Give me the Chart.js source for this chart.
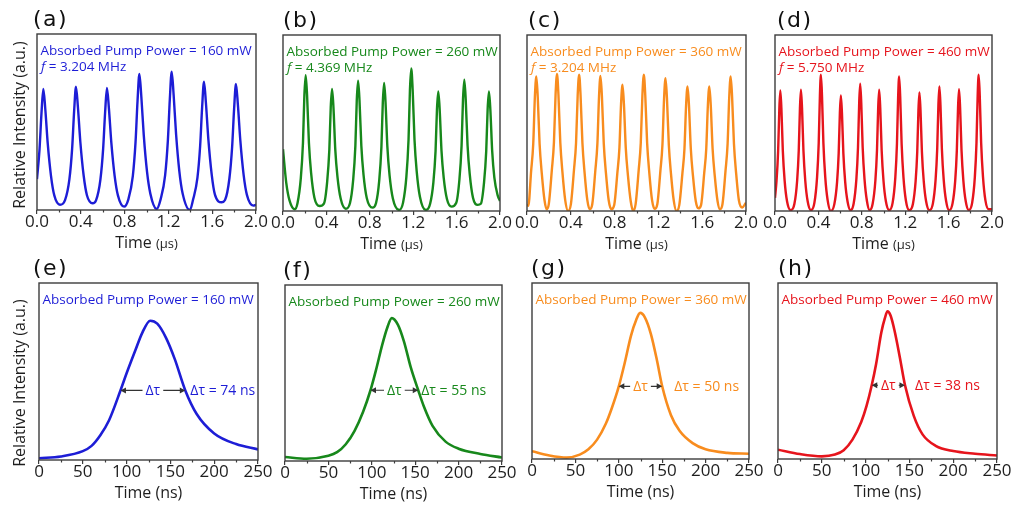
<!DOCTYPE html>
<html>
<head>
<meta charset="utf-8">
<script src="https://cdn.jsdelivr.net/npm/chart.js@4"></script>
<style>
  html, body { margin: 0; padding: 0; background: #fff; }
  #fig { position: relative; width: 1011px; height: 506px; overflow: hidden; background: #fff; }
  #fig canvas { position: absolute; }
</style>
</head>
<body>
<div id="fig"></div>
<script>
// ---- Pulse trains, time in microseconds, intensity in arbitrary units ----
const trainA = [
  [0,0.176],[0.023,0.344],[0.041,0.55],[0.058,0.688],[0.076,0.571],[0.098,0.378],[0.128,0.193],[0.158,0.083],[0.21,0.03],
  [0.256,0.056],[0.296,0.175],[0.321,0.35],[0.339,0.56],[0.356,0.70],[0.374,0.581],[0.396,0.385],[0.426,0.196],[0.456,0.084],[0.508,0.038],
  [0.539,0.055],[0.579,0.173],[0.604,0.347],[0.622,0.554],[0.639,0.693],[0.657,0.575],[0.679,0.381],[0.709,0.194],[0.739,0.083],[0.795,0.019],
  [0.835,0.062],[0.875,0.193],[0.90,0.387],[0.918,0.618],[0.935,0.773],[0.953,0.642],[0.975,0.425],[1.005,0.216],[1.035,0.093],[1.093,0.006],
  [1.13,0.063],[1.17,0.197],[1.195,0.393],[1.213,0.629],[1.23,0.786],[1.248,0.652],[1.27,0.432],[1.30,0.22],[1.33,0.094],[1.397,0.0],
  [1.425,0.058],[1.465,0.182],[1.49,0.365],[1.508,0.583],[1.525,0.729],[1.543,0.605],[1.565,0.401],[1.595,0.204],[1.625,0.087],[1.686,0.044],
  [1.717,0.057],[1.757,0.179],[1.782,0.358],[1.80,0.573],[1.817,0.716],[1.835,0.594],[1.857,0.394],[1.887,0.2],[1.917,0.086],[1.976,0.025],[2.0,0.03]
];
const trainB = [
  [0,0.351],[0.03,0.16],[0.06,0.06],[0.108,0.01],
  [0.134,0.046],[0.164,0.185],[0.184,0.386],[0.197,0.656],[0.209,0.772],[0.222,0.656],[0.239,0.386],[0.259,0.216],[0.289,0.077],[0.338,0.028],
  [0.377,0.042],[0.407,0.166],[0.427,0.347],[0.44,0.589],[0.452,0.693],[0.465,0.589],[0.482,0.347],[0.502,0.194],[0.532,0.069],[0.578,0.013],
  [0.617,0.044],[0.647,0.178],[0.667,0.37],[0.68,0.629],[0.692,0.74],[0.705,0.629],[0.722,0.37],[0.742,0.207],[0.772,0.074],[0.825,0.019],
  [0.857,0.044],[0.887,0.174],[0.907,0.364],[0.92,0.618],[0.932,0.727],[0.945,0.618],[0.962,0.364],[0.982,0.204],[1.012,0.073],[1.071,0.006],
  [1.107,0.049],[1.137,0.194],[1.157,0.405],[1.17,0.689],[1.182,0.81],[1.195,0.689],[1.212,0.405],[1.232,0.227],[1.262,0.081],[1.317,0.006],
  [1.356,0.041],[1.386,0.163],[1.406,0.34],[1.419,0.577],[1.431,0.679],[1.444,0.577],[1.461,0.34],[1.481,0.19],[1.511,0.068],[1.554,0.025],
  [1.596,0.045],[1.626,0.179],[1.646,0.373],[1.659,0.634],[1.671,0.746],[1.684,0.634],[1.701,0.373],[1.721,0.209],[1.751,0.075],[1.795,0.035],
  [1.823,0.041],[1.853,0.163],[1.873,0.34],[1.886,0.577],[1.898,0.679],[1.911,0.577],[1.928,0.34],[1.948,0.19],[1.978,0.09],[2.0,0.057]
];
const trainC = [
  [0,0.038],[0.012,0.03],
  [0.038,0.229],[0.057,0.382],[0.072,0.649],[0.085,0.764],[0.098,0.649],[0.115,0.382],[0.135,0.214],[0.16,0.061],[0.18,0.01],
  [0.199,0.039],[0.227,0.234],[0.246,0.39],[0.261,0.662],[0.274,0.779],[0.287,0.662],[0.304,0.39],[0.324,0.218],[0.349,0.062],[0.375,0.0],
  [0.401,0.039],[0.429,0.233],[0.448,0.388],[0.463,0.659],[0.476,0.775],[0.489,0.659],[0.506,0.388],[0.526,0.217],[0.551,0.062],[0.573,0.01],
  [0.596,0.038],[0.624,0.23],[0.643,0.384],[0.658,0.653],[0.671,0.768],[0.684,0.653],[0.701,0.384],[0.721,0.215],[0.746,0.061],[0.77,0.01],
  [0.797,0.036],[0.825,0.215],[0.844,0.359],[0.859,0.609],[0.872,0.717],[0.885,0.609],[0.902,0.359],[0.922,0.201],[0.947,0.057],[0.97,0.0],
  [0.992,0.039],[1.02,0.232],[1.039,0.387],[1.054,0.658],[1.067,0.774],[1.08,0.658],[1.097,0.387],[1.117,0.217],[1.142,0.062],[1.166,0.012],
  [1.19,0.038],[1.218,0.227],[1.237,0.378],[1.252,0.642],[1.265,0.755],[1.278,0.642],[1.295,0.378],[1.315,0.211],[1.34,0.06],[1.365,0.0],
  [1.391,0.035],[1.419,0.212],[1.438,0.354],[1.453,0.602],[1.466,0.708],[1.479,0.602],[1.496,0.354],[1.516,0.198],[1.541,0.057],[1.565,0.015],
  [1.59,0.035],[1.618,0.212],[1.637,0.354],[1.652,0.602],[1.665,0.708],[1.678,0.602],[1.695,0.354],[1.715,0.198],[1.74,0.057],[1.762,0.01],
  [1.785,0.038],[1.813,0.229],[1.832,0.382],[1.847,0.649],[1.86,0.764],[1.873,0.649],[1.89,0.382],[1.91,0.214],[1.935,0.061],[1.965,0.02],[2.0,0.047]
];
const trainD = [
  [0,0.075],[0.014,0.171],[0.029,0.343],[0.04,0.582],[0.049,0.685],[0.059,0.582],[0.072,0.343],[0.089,0.171],[0.111,0.055],[0.144,0.005],
  [0.179,0.041],[0.204,0.172],[0.219,0.345],[0.23,0.586],[0.239,0.689],[0.249,0.586],[0.262,0.345],[0.279,0.172],[0.301,0.055],[0.331,0.005],
  [0.363,0.046],[0.388,0.194],[0.403,0.387],[0.414,0.658],[0.423,0.774],[0.433,0.658],[0.446,0.387],[0.463,0.194],[0.485,0.062],[0.515,0.0],
  [0.547,0.039],[0.572,0.164],[0.587,0.329],[0.598,0.558],[0.607,0.657],[0.617,0.558],[0.63,0.329],[0.647,0.164],[0.669,0.053],[0.696,0.005],
  [0.725,0.043],[0.75,0.181],[0.765,0.362],[0.776,0.615],[0.785,0.723],[0.795,0.615],[0.808,0.362],[0.825,0.181],[0.847,0.058],[0.872,0.005],
  [0.9,0.041],[0.925,0.172],[0.94,0.345],[0.951,0.586],[0.96,0.689],[0.97,0.586],[0.983,0.345],[1.0,0.172],[1.022,0.055],[1.052,0.005],
  [1.084,0.046],[1.109,0.191],[1.124,0.382],[1.135,0.649],[1.144,0.764],[1.154,0.649],[1.167,0.382],[1.184,0.191],[1.206,0.061],[1.237,0.005],
  [1.271,0.04],[1.296,0.169],[1.311,0.337],[1.322,0.573],[1.331,0.674],[1.341,0.573],[1.354,0.337],[1.371,0.169],[1.393,0.054],[1.423,0.005],
  [1.455,0.042],[1.48,0.177],[1.495,0.354],[1.506,0.602],[1.515,0.708],[1.525,0.602],[1.538,0.354],[1.555,0.177],[1.577,0.057],[1.605,0.005],
  [1.636,0.042],[1.661,0.173],[1.676,0.346],[1.687,0.588],[1.696,0.692],[1.706,0.588],[1.719,0.346],[1.736,0.173],[1.758,0.055],[1.786,0.005],
  [1.817,0.046],[1.842,0.194],[1.857,0.387],[1.868,0.658],[1.877,0.774],[1.887,0.658],[1.9,0.387],[1.917,0.194],[1.939,0.062],[1.97,0.01],[2.0,0.01]
];

// ---- Single pulses, time in nanoseconds ----
const pulseE = [[0,0.01],[25,0.02],[50,0.05],[60,0.08],[70,0.14],[80,0.225],[93,0.393],[100,0.49],[110,0.62],[118,0.72],[127,0.787],[135,0.77],[145,0.69],[155,0.57],[167,0.393],[180,0.26],[200,0.15],[225,0.09],[250,0.06]];
const pulseF = [[0,0.023],[25,0.013],[50,0.03],[60,0.05],[70,0.095],[80,0.17],[90,0.28],[98.5,0.402],[105,0.52],[112,0.66],[118,0.76],[123,0.812],[130,0.775],[137,0.68],[145,0.53],[153.5,0.402],[160,0.31],[170,0.2],[185,0.11],[200,0.07],[225,0.04],[250,0.02]];
const pulseG = [[0,0.044],[20,0.02],[40,0.008],[55,0.025],[65,0.055],[75,0.11],[85,0.2],[92,0.29],[100,0.413],[107,0.55],[114,0.70],[120,0.79],[124.6,0.83],[130,0.805],[137,0.71],[144,0.56],[150,0.413],[160,0.25],[170,0.16],[185,0.09],[200,0.055],[225,0.035],[250,0.03]];
const pulseH = [[0,0.053],[25,0.028],[50,0.015],[65,0.025],[75,0.05],[85,0.11],[95,0.21],[101,0.30],[107,0.419],[112,0.54],[118,0.72],[122,0.80],[125,0.839],[128.5,0.815],[133,0.73],[139,0.58],[145,0.419],[155,0.245],[165,0.14],[180,0.075],[200,0.045],[225,0.03],[250,0.02]];

// ---- Labels and measured widths ----
const pumpPowers = ['160', '260', '360', '460'];
const repRates = ['3.204', '4.369', '3.204', '5.750'];
const pulseWidthsNs = [74, 55, 50, 38];
const halfLeftNs = [93, 98.5, 100, 107];
const halfLevels = [0.393, 0.402, 0.413, 0.419];

// ---- Axis ticks ----
const ticksUs = [0, 0.4, 0.8, 1.2, 1.6, 2.0];
const minorUs = [0.2, 0.6, 1.0, 1.4, 1.8];
const ticksNs = [0, 50, 100, 150, 200, 250];
const minorNs = [25, 75, 125, 175, 225];

const colors = ['#1d1dd6', '#17881b', '#f88c1e', '#e6141c'];
const FONT = "'Open Sans', 'DejaVu Sans', sans-serif";
const TAG_FONT = "'DejaVu Sans', sans-serif";
const INK = '#1e1e1e';

Chart.defaults.font.family = FONT;

// Plot boxes [left, top, right, bottom] in page pixels
const panels = [
  { tag: '(a)', data: trainA, row: 0, i: 0, box: [37, 34, 256, 210], tagX: 33, yTitle: 125 },
  { tag: '(b)', data: trainB, row: 0, i: 1, box: [283, 35, 500, 211], tagX: 283 },
  { tag: '(c)', data: trainC, row: 0, i: 2, box: [527, 35, 746, 211], tagX: 528 },
  { tag: '(d)', data: trainD, row: 0, i: 3, box: [775, 35, 992, 211], tagX: 777 },
  { tag: '(e)', data: pulseE, row: 1, i: 0, box: [39, 283, 258, 460], tagX: 33, yTitle: 383, noteGap: 5 },
  { tag: '(f)', data: pulseF, row: 1, i: 1, box: [285, 285, 502, 461], tagX: 283, noteGap: 3 },
  { tag: '(g)', data: pulseG, row: 1, i: 2, box: [532, 283, 749, 459], tagX: 531, noteGap: 12 },
  { tag: '(h)', data: pulseH, row: 1, i: 3, box: [778, 283, 997, 459], tagX: 778, noteGap: 10 }
];

const PAD_L = 37, PAD_T = 34, PAD_R = 18, AX_H = 46;
const HEAD_FONT = '500 13.5px ' + FONT;
const HEAD_ITALIC = 'italic 500 13.5px ' + FONT;

function arrowHead(ctx, x, y, dir) {
  ctx.beginPath();
  ctx.moveTo(x, y);
  ctx.lineTo(x - dir * 5.5, y - 3);
  ctx.lineTo(x - dir * 5.5, y + 3);
  ctx.closePath();
  ctx.fill();
}

// draws a string one glyph at a time with extra tracking
function spacedText(ctx, s, x, y, track) {
  for (const ch of s) {
    ctx.fillText(ch, x, y);
    x += ctx.measureText(ch).width + track;
  }
}

const decorations = {
  id: 'decorations',
  afterDraw(chart, args, opts) {
    const p = opts.panel;
    const ctx = chart.ctx;
    const a = chart.chartArea;
    const xs = chart.scales.x, ys = chart.scales.y;
    const color = colors[p.i];
    const ox = p.box[0] - PAD_L, oy = p.box[1] - PAD_T;
    ctx.save();

    // frame
    ctx.strokeStyle = '#3c3c3c';
    ctx.lineWidth = 1.4;
    ctx.strokeRect(a.left, a.top, a.right - a.left, a.bottom - a.top);

    // minor ticks
    ctx.lineWidth = 1.2;
    const minors = p.row === 0 ? minorUs : minorNs;
    minors.forEach(v => {
      const x = Math.round(xs.getPixelForValue(v)) + 0.5;
      ctx.beginPath();
      ctx.moveTo(x, a.bottom);
      ctx.lineTo(x, a.bottom + 2.5);
      ctx.stroke();
    });

    // panel tag
    ctx.fillStyle = '#111';
    ctx.font = '22px ' + TAG_FONT;
    ctx.textAlign = 'left';
    ctx.textBaseline = 'alphabetic';
    spacedText(ctx, p.tag, p.tagX - ox, a.top - 8, 1.5);

    // header text
    ctx.fillStyle = color;
    ctx.font = HEAD_FONT;
    ctx.fillText('Absorbed Pump Power = ' + pumpPowers[p.i] + ' mW', a.left + 3.5, a.top + 21);
    if (p.row === 0) {
      ctx.font = HEAD_ITALIC;
      ctx.fillText('f', a.left + 4, a.top + 37);
      const fw = ctx.measureText('f').width;
      ctx.font = HEAD_FONT;
      ctx.fillText(' = ' + repRates[p.i] + ' MHz', a.left + 4 + fw, a.top + 37);
    }

    // x-axis title
    ctx.fillStyle = INK;
    const cx = (a.left + a.right) / 2;
    const by = a.bottom + 38;
    if (p.row === 0) {
      ctx.font = '16px ' + FONT;
      const w1 = ctx.measureText('Time ').width;
      ctx.font = '13px ' + FONT;
      const w2 = ctx.measureText('(\u03bcs)').width;
      const x0 = cx - (w1 + w2) / 2;
      ctx.font = '16px ' + FONT;
      ctx.fillText('Time ', x0, by);
      ctx.font = '13px ' + FONT;
      ctx.fillText('(\u03bcs)', x0 + w1, by);
    } else {
      ctx.font = '16px ' + FONT;
      ctx.textAlign = 'center';
      ctx.fillText('Time (ns)', cx, by);
    }

    // y-axis title
    if (p.yTitle) {
      ctx.save();
      ctx.translate(20 - ox, p.yTitle - oy);
      ctx.rotate(-Math.PI / 2);
      ctx.font = '16px ' + FONT;
      ctx.textAlign = 'center';
      ctx.textBaseline = 'middle';
      ctx.fillStyle = INK;
      ctx.fillText('Relative Intensity (a.u.)', 0, 0);
      ctx.restore();
    }

    // FWHM marker
    if (p.row === 1) {
      const t1 = halfLeftNs[p.i];
      const t2 = t1 + pulseWidthsNs[p.i];
      const xL = xs.getPixelForValue(t1);
      const xR = xs.getPixelForValue(t2);
      const y = ys.getPixelForValue(halfLevels[p.i]);
      const mid = (xL + xR) / 2;
      ctx.font = '14px ' + FONT;
      ctx.textAlign = 'center';
      ctx.textBaseline = 'middle';
      ctx.fillStyle = color;
      const label = '\u0394\u03c4';
      const tw = ctx.measureText(label).width;
      ctx.fillText(label, mid, y + 1);
      ctx.strokeStyle = '#333';
      ctx.fillStyle = '#333';
      ctx.lineWidth = 1.2;
      ctx.beginPath();
      ctx.moveTo(xL + 2, y); ctx.lineTo(mid - tw / 2 - 3, y);
      ctx.moveTo(mid + tw / 2 + 3, y); ctx.lineTo(xR - 2, y);
      ctx.stroke();
      arrowHead(ctx, xL, y, -1);
      arrowHead(ctx, xR, y, 1);
      ctx.fillStyle = color;
      ctx.textAlign = 'left';
      ctx.fillText('\u0394\u03c4 = ' + pulseWidthsNs[p.i] + ' ns', xR + p.noteGap, y + 1);
    }
    ctx.restore();
  }
};

const fig = document.getElementById('fig');
panels.forEach(p => {
  const [l, t, r, b] = p.box;
  const cv = document.createElement('canvas');
  const w = (r - l) + PAD_L + PAD_R;
  const h = (b - t) + PAD_T + AX_H;
  cv.width = w; cv.height = h;
  cv.style.left = (l - PAD_L) + 'px';
  cv.style.top = (t - PAD_T) + 'px';
  cv.style.width = w + 'px';
  cv.style.height = h + 'px';
  fig.appendChild(cv);

  const top = p.row === 0;
  const majors = top ? ticksUs : ticksNs;
  new Chart(cv, {
    type: 'line',
    data: {
      datasets: [{
        data: p.data.map(q => ({ x: q[0], y: q[1] })),
        borderColor: colors[p.i],
        borderWidth: top ? 2.4 : 2.6,
        pointRadius: 0,
        cubicInterpolationMode: 'monotone',
        fill: false
      }]
    },
    options: {
      responsive: false,
      animation: false,
      devicePixelRatio: 1,
      layout: { padding: { left: PAD_L, top: PAD_T, right: PAD_R, bottom: 0 }, autoPadding: false },
      plugins: { legend: { display: false }, tooltip: { enabled: false }, decorations: { panel: p } },
      scales: {
        x: {
          type: 'linear',
          min: majors[0],
          max: majors[majors.length - 1],
          afterBuildTicks: s => { s.ticks = majors.map(v => ({ value: v })); },
          afterFit: s => { s.height = AX_H; },
          ticks: {
            autoSkip: false,
            maxRotation: 0,
            padding: 0,
            color: INK,
            font: { size: 17, lineHeight: 1 },
            callback: v => top ? Number(v).toFixed(1) : String(v)
          },
          grid: { display: true, drawOnChartArea: false, drawTicks: true, tickLength: 4, color: '#3c3c3c', lineWidth: 1.2 },
          border: { display: false }
        },
        y: { display: false, min: 0, max: 1 }
      }
    },
    plugins: [decorations]
  });
});
</script>
</body>
</html>
